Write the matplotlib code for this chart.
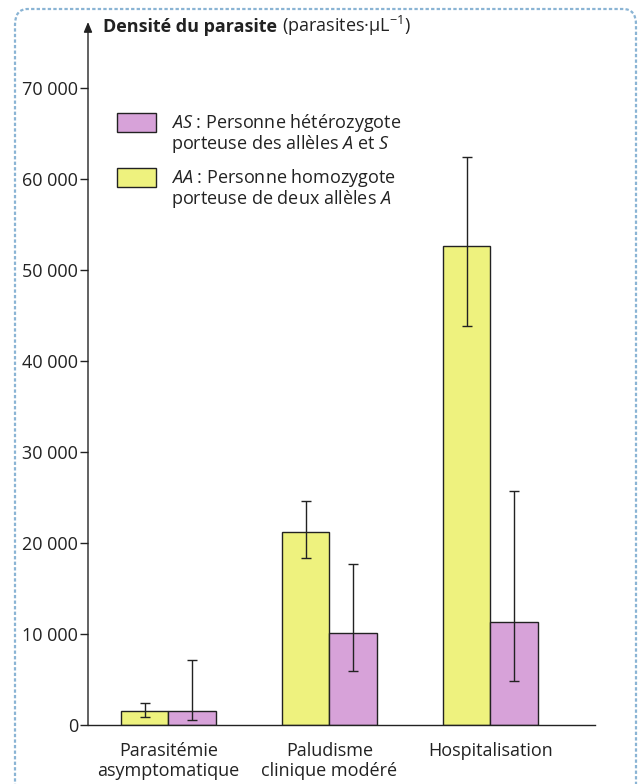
import matplotlib
matplotlib.use("Agg")
import matplotlib.pyplot as plt
from matplotlib.patches import Rectangle, FancyBboxPatch
import numpy as np

plt.rcParams['font.family'] = ['Open Sans', 'DejaVu Sans']
plt.rcParams['mathtext.fontset'] = 'custom'
plt.rcParams['mathtext.rm'] = 'Open Sans'
plt.rcParams['mathtext.it'] = 'Open Sans:italic'
plt.rcParams['mathtext.bf'] = 'Open Sans:bold'

categories = ["Parasitémie\nasymptomatique", "Paludisme\nclinique modéré", "Hospitalisation"]
aa_values = [1500, 21200, 52600]
aa_err_low = [900, 18300, 43800]
aa_err_high = [2400, 24600, 62400]
as_values = [1500, 10100, 11300]
as_err_low = [500, 5900, 4800]
as_err_high = [7100, 17700, 25700]
yticks = [0, 10000, 20000, 30000, 40000, 50000, 60000, 70000]
ytick_labels = ["0", "10 000", "20 000", "30 000", "40 000", "50 000", "60 000", "70 000"]

yellow = "#eef27e"
purple = "#d7a2d9"
ink = "#222222"

W, H = 640, 784
fig = plt.figure(figsize=(W / 100, H / 100), dpi=100)
fig.patch.set_facecolor("white")

# page frame
frame = FancyBboxPatch((15 / W, -20 / H), 621 / W, 795 / H,
                       boxstyle="round,pad=0,rounding_size=0.02",
                       transform=fig.transFigure, fill=False,
                       edgecolor="#8ab4d4", lw=1.6, linestyle=(0, (1.5, 1)))
fig.patches.append(frame)

ax = fig.add_axes([88 / W, 59 / H, 507 / W, 703 / H])
ax.set_facecolor("none")

x = np.arange(len(categories))
w = 0.295
aa_err = [np.array(aa_values) - np.array(aa_err_low), np.array(aa_err_high) - np.array(aa_values)]
as_err = [np.array(as_values) - np.array(as_err_low), np.array(as_err_high) - np.array(as_values)]

ax.bar(x - w / 2, aa_values, w, color=yellow, edgecolor=ink, lw=1.0, zorder=2)
ax.bar(x + w / 2, as_values, w, color=purple, edgecolor=ink, lw=1.0, zorder=2)
ax.errorbar(x - w / 2, aa_values, yerr=aa_err, fmt="none", ecolor=ink,
            elinewidth=1.0, capsize=3.3, capthick=1.0, zorder=3)
ax.errorbar(x + w / 2, as_values, yerr=as_err, fmt="none", ecolor=ink,
            elinewidth=1.0, capsize=3.3, capthick=1.0, zorder=3)

ax.set_xlim(-0.5, 2.65)
ax.set_ylim(0, 77250)
ax.set_yticks(yticks)
ax.set_yticklabels(ytick_labels, fontsize=13, color=ink)
ax.set_xticks(x)
ax.set_xticklabels(categories, fontsize=13, color=ink, linespacing=1.15)
ax.tick_params(axis="x", length=0, pad=12)
ax.tick_params(axis="y", direction="out", length=6, width=1.0, color=ink, pad=1)

for s in ["top", "right", "left"]:
    ax.spines[s].set_visible(False)
ax.spines["bottom"].set_color(ink)
ax.spines["bottom"].set_linewidth(1.0)

ax.annotate("", xy=(0, 1.0), xycoords="axes fraction", xytext=(0, 0),
            textcoords="axes fraction",
            arrowprops=dict(arrowstyle="-|>,head_length=0.6,head_width=0.25",
                            color=ink, lw=1.0, shrinkA=0, shrinkB=0))

# title (bold part + regular part on the same baseline)
ty = 1 - 32 / H
t1 = fig.text(103 / W, ty, "Densité du parasite", fontsize=13,
              fontweight="bold", color=ink, va="baseline", ha="left")
renderer = fig.canvas.get_renderer()
bb = t1.get_window_extent(renderer=renderer)
fig.text(bb.x1 / W + 5 / W, ty, "(parasites·µL$^{-1}$)", fontsize=13,
         color=ink, va="baseline", ha="left")

# legend
def legend_item(y_top_px, color, line1, line2):
    r = Rectangle((117 / W, 1 - (y_top_px + 19) / H), 39 / W, 19 / H,
                  transform=fig.transFigure, facecolor=color, edgecolor=ink, lw=1.0)
    fig.patches.append(r)
    fig.text(171 / W, 1 - (y_top_px + 15) / H, line1, fontsize=13,
             color=ink, va="baseline", ha="left")
    fig.text(171 / W, 1 - (y_top_px + 36) / H, line2, fontsize=13,
             color=ink, va="baseline", ha="left")

legend_item(113, purple, "$\\mathit{AS}$ : Personne hétérozygote",
            "porteuse des allèles $\\mathit{A}$ et $\\mathit{S}$")
legend_item(168, yellow, "$\\mathit{AA}$ : Personne homozygote",
            "porteuse de deux allèles $\\mathit{A}$")

fig.savefig("out.png", dpi=100, facecolor=fig.get_facecolor())
